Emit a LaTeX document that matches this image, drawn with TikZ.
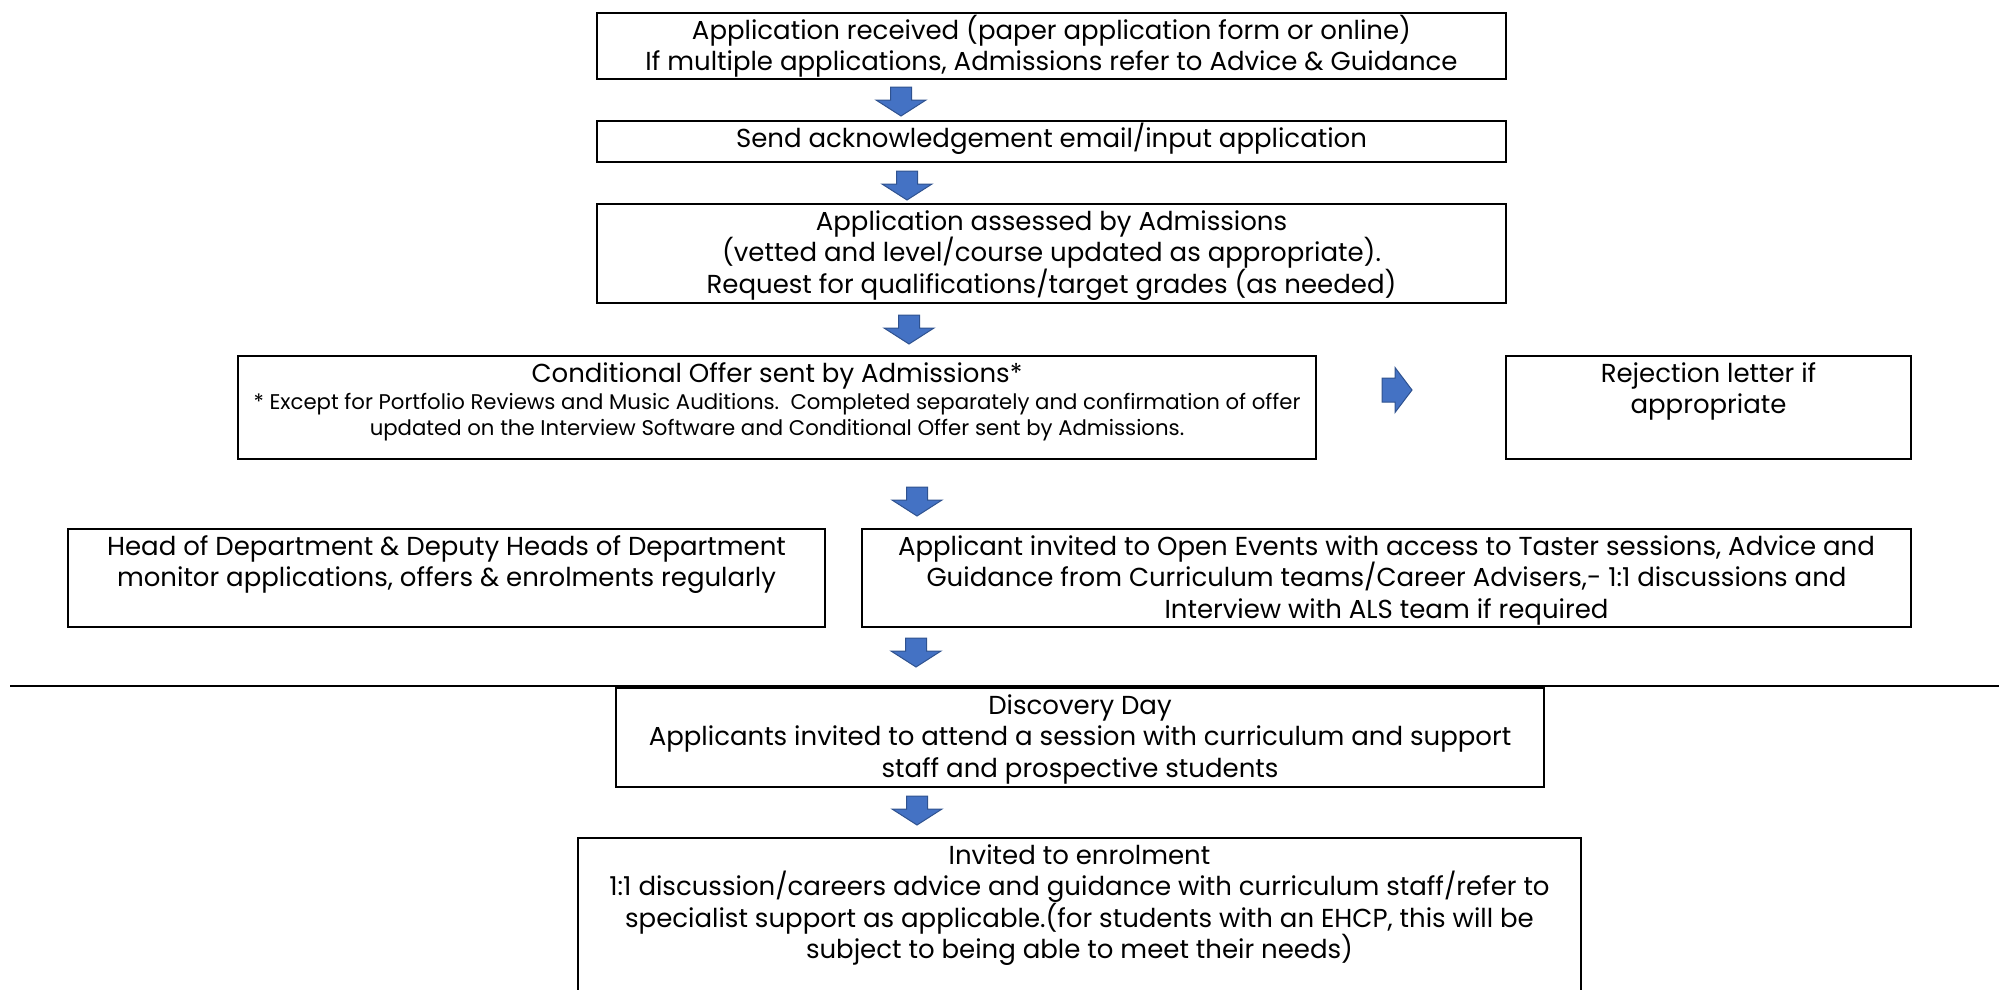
\documentclass[tikz,border=0pt]{standalone}
\usepackage{fontspec}
\setmainfont{Poppins}
\definecolor{arrfill}{HTML}{4472C4}
\definecolor{arrline}{HTML}{2F528F}
\tikzset{
  box/.style={draw=black, line width=2pt, outer sep=0pt, inner sep=0pt, anchor=north west},
  txt/.style={inner sep=0pt, align=center, anchor=north, font=\fontsize{26}{31.5}\selectfont},
  smalltxt/.style={inner sep=0pt, align=center, anchor=north, font=\fontsize{21.25}{26.5}\selectfont},
  darrow/.pic={\filldraw[fill=arrfill, draw=arrline, line width=1pt]
     (-10.5,0) -- (10.5,0) -- (10.5,13) -- (25,13) -- (0,29) -- (-25,13) -- (-10.5,13) -- cycle;},
  rarrow/.pic={\filldraw[fill=arrfill, draw=arrline, line width=1pt]
     (0,-12) -- (13,-12) -- (13,-22.5) -- (30,0) -- (13,22.5) -- (13,12) -- (0,12) -- cycle;},
}
\newcommand{\tr}{\rule{0pt}{26pt}}
\newcommand{\sr}{\rule{0pt}{20pt}}
\begin{document}
\begin{tikzpicture}[x=1pt,y=-1pt]
\useasboundingbox (0,0) rectangle (1999,989);
% boxes
\node[box, minimum width=909pt, minimum height=66pt] (b1) at (597,13) {};
\node[box, minimum width=909pt, minimum height=41pt] (b2) at (597,121) {};
\node[box, minimum width=909pt, minimum height=99pt] (b3) at (597,204) {};
\node[box, minimum width=1078pt, minimum height=103pt] (b4) at (238,356) {};
\node[box, minimum width=405pt, minimum height=103pt] (rej) at (1506,356) {};
\node[box, minimum width=757pt, minimum height=98pt] (hod) at (68,529) {};
\node[box, minimum width=1049pt, minimum height=98pt] (open) at (862,529) {};
\node[box, minimum width=928pt, minimum height=99pt] (disc) at (616,688) {};
\node[box, minimum width=1003pt, minimum height=170pt] (enr) at (578,838) {};
% texts
\node[txt] (t1) at (b1.north) {\tr Application received (paper application form or online)\\If multiple applications, Admissions refer to Advice \& Guidance};
\node[txt] (t2) at (b2.north) {\tr Send acknowledgement email/input application};
\node[txt] (t3) at (b3.north) {\tr Application assessed by Admissions\\(vetted and level/course updated as appropriate).\\Request for qualifications/target grades (as needed)};
\node[txt] (t4) at (b4.north) {\tr Conditional Offer sent by Admissions*};
\node[smalltxt] (t4s) at ([yshift=-33pt]b4.north) {\sr * Except for Portfolio Reviews and Music Auditions.\ \ Completed separately and confirmation of offer\\updated on the Interview Software and Conditional Offer sent by Admissions.};
\node[txt] (t5) at (rej.north) {\tr Rejection letter if\\appropriate};
\node[txt] (t6) at (hod.north) {\tr Head of Department \& Deputy Heads of Department\\monitor applications, offers \& enrolments regularly};
\node[txt] (t7) at (open.north) {\tr Applicant invited to Open Events with access to Taster sessions, Advice and\\Guidance from Curriculum teams/Career Advisers,- 1:1 discussions and\\Interview with ALS team if required};
\node[txt] (t8) at (disc.north) {\tr Discovery Day\\Applicants invited to attend a session with curriculum and support\\staff and prospective students};
\node[txt] (t9) at (enr.north) {\tr Invited to enrolment\\1:1 discussion/careers advice and guidance with curriculum staff/refer to\\specialist support as applicable.(for students with an EHCP, this will be\\subject to being able to meet their needs)};
% block arrows
\pic at (901,87) {darrow};
\pic at (907,171) {darrow};
\pic at (909,315) {darrow};
\pic at (917,487) {darrow};
\pic at (916,638) {darrow};
\pic at (917,796) {darrow};
\pic at (1382,390) {rarrow};
% divider
\coordinate (l1) at (10,686);
\coordinate (l2) at (1999,686);
\draw[line width=2pt] (l1) -- (l2);
\end{tikzpicture}
\end{document}
